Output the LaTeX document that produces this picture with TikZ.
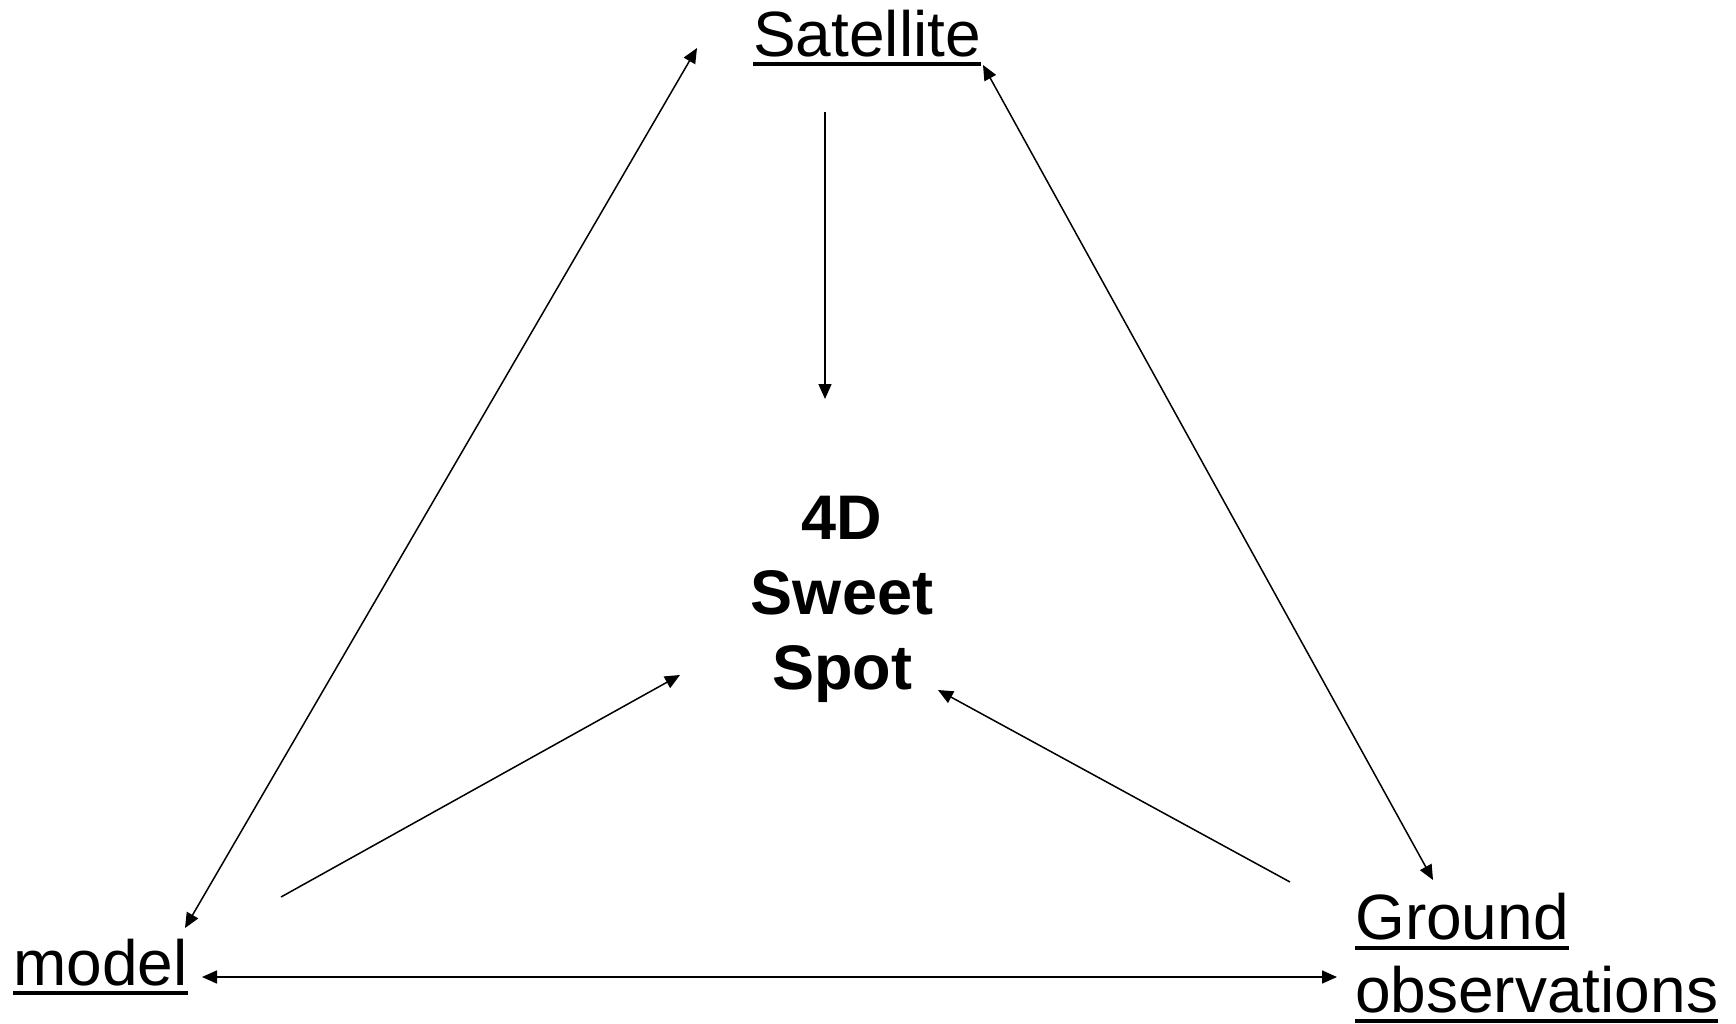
\documentclass[tikz,border=0pt]{standalone}
\usepackage{fontspec}
\setmainfont{Liberation Sans}
\usetikzlibrary{arrows.meta}
\begin{document}
\begin{tikzpicture}[x=1pt,y=-1pt,
  lbl/.style={inner sep=0pt,anchor=base west,font=\fontsize{64}{74}\selectfont},
  ctr/.style={inner sep=0pt,align=center,font=\fontsize{63}{75}\selectfont\bfseries},
  ul/.style={line width=3.6pt},
  conn/.style={line width=1.5pt,{Triangle[length=15pt,width=13pt]}-{Triangle[length=15pt,width=13pt]}},
  oneway/.style={line width=1.5pt,-{Triangle[length=15pt,width=13pt]}}]
\useasboundingbox (0,0) rectangle (1736,1024);
\fill[white] (0,0) rectangle (1736,1024);
% labels
\node[lbl] (sat) at (753,57) {Satellite};
\node[lbl] (model) at (13,985) {model};
\node[lbl] (gnd) at (1355,939) {Ground};
\node[lbl] (obs) at (1355,1012) {observations};
\node[ctr] (spot) at (842,599) {4D\\Sweet\\Spot};
% underlines
\draw[ul] ([yshift=-7pt]sat.base west) -- ([yshift=-7pt]sat.base east);
\draw[ul] ([yshift=-8pt]model.base west) -- ([yshift=-8pt]model.base east);
\draw[ul] ([yshift=-9pt]gnd.base west) -- ([yshift=-9pt]gnd.base east);
\draw[ul] ([yshift=-9pt]obs.base west) -- ([yshift=-9pt]obs.base east);
% connector endpoints
\coordinate (satL) at (697,48);
\coordinate (satR) at (983,65);
\coordinate (satB) at (825,112);
\coordinate (spotT) at (825,399);
\coordinate (modT) at (185,928);
\coordinate (modR) at (202,977);
\coordinate (modS) at (281,897);
\coordinate (spotL) at (680,675);
\coordinate (gndT) at (1433,880);
\coordinate (gndL) at (1337,977);
\coordinate (gndS) at (1290,882);
\coordinate (spotR) at (938,690);
% connectors
\draw[oneway] (satB) -- (spotT);
\draw[conn] (modT) -- (satL);
\draw[conn] (satR) -- (gndT);
\draw[conn] (modR) -- (gndL);
\draw[oneway] (modS) -- (spotL);
\draw[oneway] (gndS) -- (spotR);
\end{tikzpicture}
\end{document}
